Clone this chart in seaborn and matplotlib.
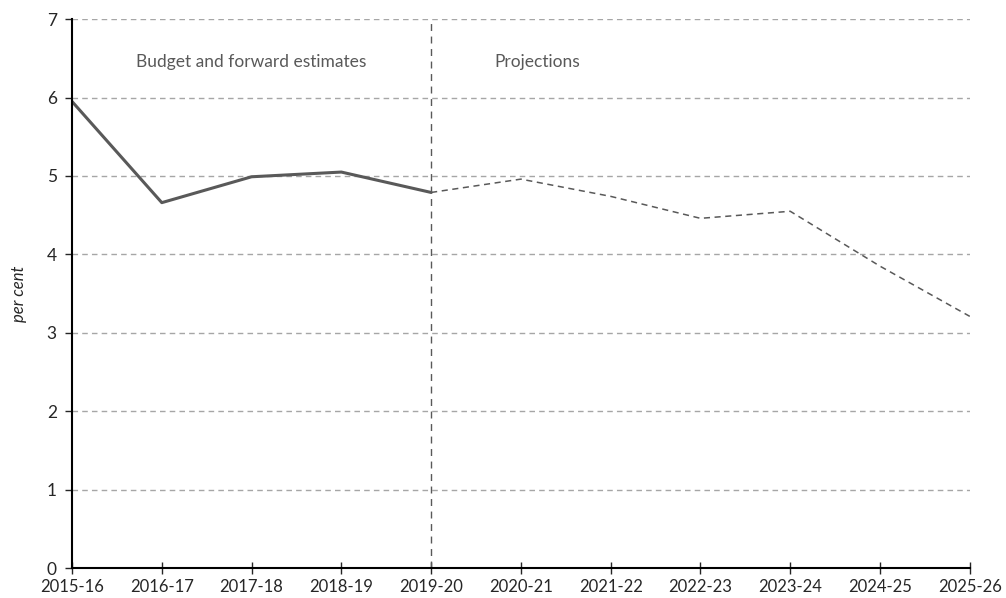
import matplotlib
matplotlib.use("Agg")
import matplotlib.pyplot as plt
import seaborn as sns
import pandas as pd

years = ["2015-16", "2016-17", "2017-18", "2018-19", "2019-20", "2020-21",
         "2021-22", "2022-23", "2023-24", "2024-25", "2025-26"]
budget_vals = [5.95, 4.66, 4.99, 5.05, 4.79]
projection_vals = [4.79, 4.96, 4.74, 4.46, 4.55, 3.85, 3.21]

budget_df = pd.DataFrame({"x": range(0, 5), "value": budget_vals})
proj_df = pd.DataFrame({"x": range(4, 11), "value": projection_vals})

sns.set_style("white")
plt.rcParams["font.family"] = ["Lato", "DejaVu Sans"]

fig, ax = plt.subplots(figsize=(10.06, 5.98), dpi=100)
fig.subplots_adjust(left=0.0716, right=0.964, top=0.968, bottom=0.05)

# grid lines at each whole per cent
for y in range(1, 8):
    ax.axhline(y, color="#a6a6a6", linestyle=(0, (4, 3)), linewidth=1, zorder=0)

ax.axvline(4, color="#595959", linestyle=(0, (5, 4)), linewidth=1, zorder=1)

sns.lineplot(data=budget_df, x="x", y="value", ax=ax, color="#595959", linewidth=2.2)
sns.lineplot(data=proj_df, x="x", y="value", ax=ax, color="#595959", linewidth=1.1,
             linestyle=(0, (4, 3)))

ax.set_xlim(0, 10)
ax.set_ylim(0, 7)
ax.set_xticks(range(len(years)))
ax.set_xticklabels(years)
ax.set_yticks(range(0, 8))
ax.set_xlabel("")
ax.set_ylabel("per cent", fontstyle="italic", fontsize=12, labelpad=14)

for side in ["top", "right"]:
    ax.spines[side].set_visible(False)
for side in ["left", "bottom"]:
    ax.spines[side].set_color("black")
    ax.spines[side].set_linewidth(1.5)

ax.tick_params(axis="x", direction="inout", length=8, width=1, labelsize=12, pad=4, bottom=True)
ax.tick_params(axis="y", direction="out", length=5, width=1, labelsize=12.5, pad=6, left=True)

ax.text(2.0, 6.45, "Budget and forward estimates", ha="center", va="center",
        fontsize=12.5, color="#595959")
ax.text(5.18, 6.45, "Projections", ha="center", va="center", fontsize=12.5, color="#595959")

fig.savefig("out.png", dpi=100)
